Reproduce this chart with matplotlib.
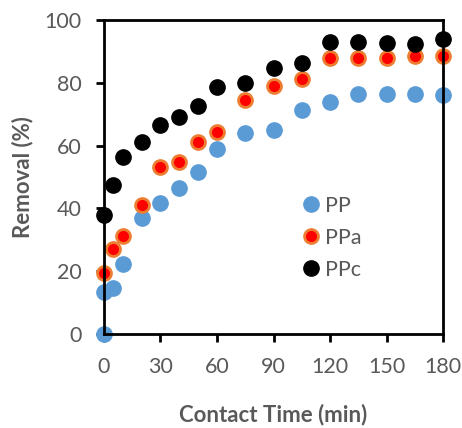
import matplotlib.pyplot as plt

# Contact time (min)
time_pp = [0, 0, 5, 10, 20, 30, 40, 50, 60, 75, 90, 105, 120, 135, 150, 165, 180]
time = [0, 5, 10, 20, 30, 40, 50, 60, 75, 90, 105, 120, 135, 150, 165, 180]

# Removal (%)
pp = [0, 13.2, 14.5, 22.3, 37.0, 41.8, 46.4, 51.5, 58.9, 64.1, 64.9, 71.3, 74.0, 76.4, 76.4, 76.4, 76.1]
ppa = [19.4, 27.0, 31.2, 41.1, 53.3, 54.9, 61.0, 64.2, 74.5, 79.0, 81.1, 87.8, 87.8, 87.8, 88.7, 88.5]
ppc = [37.9, 47.6, 56.5, 61.0, 66.6, 69.0, 72.6, 78.6, 80.0, 84.8, 86.2, 92.9, 92.9, 92.8, 92.5, 94.0]

plt.rcParams['font.family'] = ['Lato', 'DejaVu Sans']
grey = '#595959'

fig = plt.figure(figsize=(4.62, 4.28), dpi=100)
ax = fig.add_axes([0.225, 0.22, 0.734, 0.733])

ax.plot(time_pp, pp, 'o', ms=11, color='#5B9BD5', mec='#5B9BD5', clip_on=False, label='PP')
ax.plot(time, ppa, 'o', ms=10, color='#FF0000', mec='#ED7D31', mew=2, clip_on=False, label='PPa')
ax.plot(time, ppc, 'o', ms=11, color='black', clip_on=False, label='PPc')

ax.set_xlim(0, 180)
ax.set_ylim(0, 100)
ax.set_xticks(range(0, 181, 30))
ax.set_yticks(range(0, 101, 20))

for s in ax.spines.values():
    s.set_linewidth(2)
ax.tick_params(direction='out', length=6, width=2, labelsize=15.5, labelcolor=grey)
ax.tick_params(axis='x', pad=11)
ax.tick_params(axis='y', pad=10)

ax.set_xlabel('Contact Time (min)', fontsize=16, fontweight='bold', color=grey, labelpad=19)
ax.set_ylabel('Removal (%)', fontsize=16, fontweight='bold', color=grey, labelpad=8)

ax.legend(loc='center left', bbox_to_anchor=(0.548, 0.306), frameon=False, fontsize=15.5,
          labelcolor=grey, handlelength=1, handletextpad=0.12, borderpad=0, labelspacing=0.55)

fig.savefig('out.png', dpi=100)
